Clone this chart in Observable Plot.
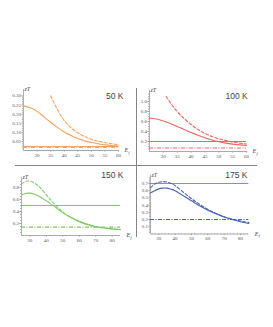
<!DOCTYPE html>
<html><head><meta charset="utf-8">
<script src="https://cdn.jsdelivr.net/npm/d3@7"></script>
<script src="https://cdn.jsdelivr.net/npm/@observablehq/plot@0.6"></script>
<style>
html,body{margin:0;padding:0;background:#fff;}
#wrap{position:relative;width:273px;height:327px;overflow:hidden;background:#fff;}
.panel{position:absolute;}
.vline{position:absolute;left:135.5px;top:88px;width:1.6px;height:149px;background:#858585;}
.hline{position:absolute;left:15px;top:164.5px;width:242px;height:1.6px;background:#858585;}
</style></head><body>
<div id="wrap"><div class="vline"></div><div class="hline"></div></div>
<script>
// ---- 50 K ----
const ef50Solid = [25, 27.5, 30, 32.5, 35, 37.5, 40, 42.5, 45, 47.5, 50, 52.5, 55, 57.5, 60];
const zt50Solid = [0.245, 0.235, 0.215, 0.185, 0.155, 0.127, 0.102, 0.082, 0.066, 0.053, 0.044, 0.037, 0.031, 0.027, 0.024];
const ef50Dashed = [35, 37.5, 40, 42.5, 45, 47.5, 50, 52.5, 55, 57.5, 60];
const zt50Dashed = [0.30, 0.225, 0.165, 0.125, 0.097, 0.077, 0.062, 0.051, 0.043, 0.037, 0.032];
const zt50Flat = 0.022, zt50DashDot = 0.017;
const xTicks50 = [30, 35, 40, 45, 50, 55, 60];
const yTicks50 = [0.05, 0.10, 0.15, 0.20, 0.25, 0.30];
const xMinor50 = [26, 27, 28, 29, 31, 32, 33, 34, 36, 37, 38, 39, 41, 42, 43, 44, 46, 47, 48, 49, 51, 52, 53, 54, 56, 57, 58, 59];
const yMinor50 = [0.01, 0.02, 0.03, 0.04, 0.06, 0.07, 0.08, 0.09, 0.11, 0.12, 0.13, 0.14, 0.16, 0.17, 0.18, 0.19, 0.21, 0.22, 0.23, 0.24, 0.26, 0.27, 0.28, 0.29];

// ---- 100 K ----
const ef100Solid = [25, 27.5, 30, 32.5, 35, 37.5, 40, 42.5, 45, 47.5, 50, 52.5, 55, 57.5, 60];
const zt100Solid = [0.67, 0.65, 0.61, 0.56, 0.50, 0.44, 0.38, 0.325, 0.275, 0.23, 0.195, 0.168, 0.148, 0.132, 0.12];
const ef100Dashed = [31, 32.5, 35, 37.5, 40, 42.5, 45, 47.5, 50, 52.5, 55, 57.5, 60];
const zt100Dashed = [1.10, 0.98, 0.80, 0.66, 0.54, 0.44, 0.36, 0.30, 0.255, 0.22, 0.19, 0.168, 0.15];
const zt100Flat = 0.20, zt100DashDot = 0.07;
const xTicks100 = [30, 35, 40, 45, 50, 55, 60];
const yTicks100 = [0.2, 0.4, 0.6, 0.8, 1.0];
const xMinor100 = xMinor50;
const yMinor100 = [0.05, 0.1, 0.15, 0.25, 0.3, 0.35, 0.45, 0.5, 0.55, 0.65, 0.7, 0.75, 0.85, 0.9, 0.95, 1.05, 1.1, 1.15];

// ---- 150 K ----
const ef150Solid = [25, 27.5, 30, 32.5, 35, 37.5, 40, 42.5, 45, 50, 55, 60, 65, 70, 75, 80, 85];
const zt150Solid = [0.68, 0.70, 0.705, 0.69, 0.66, 0.62, 0.58, 0.53, 0.48, 0.38, 0.30, 0.235, 0.185, 0.15, 0.125, 0.11, 0.095];
const ef150Dashed = [25, 27.5, 30, 32.5, 35, 37.5, 40, 42.5, 45, 50, 55, 60, 65, 70, 75, 80, 85];
const zt150Dashed = [0.86, 0.90, 0.905, 0.88, 0.83, 0.76, 0.68, 0.60, 0.52, 0.39, 0.30, 0.23, 0.18, 0.145, 0.125, 0.11, 0.10];
const zt150Flat = 0.50, zt150DashDot = 0.14;
const xTicks150 = [30, 40, 50, 60, 70, 80];
const yTicks150 = [0.2, 0.4, 0.6, 0.8];
const xMinor150 = [26, 28, 32, 34, 36, 38, 42, 44, 46, 48, 52, 54, 56, 58, 62, 64, 66, 68, 72, 74, 76, 78, 82, 84];
const yMinor150 = [0.05, 0.1, 0.15, 0.25, 0.3, 0.35, 0.45, 0.5, 0.55, 0.65, 0.7, 0.75, 0.85, 0.9];

// ---- 175 K ----
const ef175Solid = [25, 27.5, 30, 32.5, 35, 37.5, 40, 45, 50, 55, 60, 65, 70, 75, 80, 85];
const zt175Solid = [0.57, 0.60, 0.625, 0.635, 0.635, 0.62, 0.60, 0.53, 0.46, 0.39, 0.33, 0.28, 0.235, 0.20, 0.17, 0.145];
const ef175Dashed = [25, 27.5, 30, 32.5, 35, 37.5, 40, 45, 50, 55, 60, 65, 70, 75, 80, 85];
const zt175Dashed = [0.64, 0.69, 0.715, 0.725, 0.72, 0.70, 0.67, 0.58, 0.49, 0.41, 0.34, 0.285, 0.24, 0.205, 0.18, 0.16];
const zt175Flat = 0.70, zt175DashDot = 0.20;
const xTicks175 = [30, 40, 50, 60, 70, 80];
const yTicks175 = [0.1, 0.2, 0.3, 0.4, 0.5, 0.6, 0.7];
const xMinor175 = xMinor150;
const yMinor175 = [0.02, 0.04, 0.06, 0.08, 0.12, 0.14, 0.16, 0.18, 0.22, 0.24, 0.26, 0.28, 0.32, 0.34, 0.36, 0.38, 0.42, 0.44, 0.46, 0.48, 0.52, 0.54, 0.56, 0.58, 0.62, 0.64, 0.66, 0.68, 0.72, 0.74, 0.76, 0.78];

const titles = ["50 K", "100 K", "150 K", "175 K"];

function pts(xs, ys) { return xs.map((x, i) => ({x, y: ys[i]})); }

const panels = [
  {title: titles[0], color: "#f5a35a", flatColor: "#f5a35a",
   solid: pts(ef50Solid, zt50Solid), dashed: pts(ef50Dashed, zt50Dashed), flat: zt50Flat, dashDot: zt50DashDot,
   xTicks: xTicks50, yTicks: yTicks50, xMinor: xMinor50, yMinor: yMinor50, yFmt: ".2f", xDom: [25, 60], yDom: [0, 0.335],
   left: 0, top: 80, width: 136, height: 85, mt: 9, mb: 15, ml: 23, mr: 18, tdx: 5, tdy: 6.7},
  {title: titles[1], color: "#f26464", flatColor: "#f26464",
   solid: pts(ef100Solid, zt100Solid), dashed: pts(ef100Dashed, zt100Dashed), flat: zt100Flat, dashDot: zt100DashDot,
   xTicks: xTicks100, yTicks: yTicks100, xMinor: xMinor100, yMinor: yMinor100, yFmt: ".1f", xDom: [25, 60], yDom: [0, 1.22],
   left: 136, top: 80, width: 137, height: 85, mt: 10, mb: 14, ml: 13, mr: 27, tdx: 1.3, tdy: 5.7},
  {title: titles[2], color: "#84c866", flatColor: "#84c866",
   solid: pts(ef150Solid, zt150Solid), dashed: pts(ef150Dashed, zt150Dashed), flat: zt150Flat, dashDot: zt150DashDot,
   xTicks: xTicks150, yTicks: yTicks150, xMinor: xMinor150, yMinor: yMinor150, yFmt: ".1f", xDom: [25, 85], yDom: [0, 0.97],
   left: 0, top: 165, width: 136, height: 90, mt: 11.7, mb: 20, ml: 21, mr: 16, tdx: 3, tdy: -1.7},
  {title: titles[3], color: "#4862b4", flatColor: "#8888d4",
   solid: pts(ef175Solid, zt175Solid), dashed: pts(ef175Dashed, zt175Dashed), flat: zt175Flat, dashDot: zt175DashDot,
   xTicks: xTicks175, yTicks: yTicks175, xMinor: xMinor175, yMinor: yMinor175, yFmt: ".1f", xDom: [25, 85], yDom: [0, 0.81],
   left: 136, top: 165, width: 137, height: 90, mt: 10, mb: 21.5, ml: 14, mr: 24.7, tdx: -1.3, tdy: 0}
];

const wrap = document.getElementById("wrap");
const axisColor = "#9a9a9a";
const tickFont = "Liberation Serif, DejaVu Serif, serif";

for (const p of panels) {
  const chart = Plot.plot({
    width: p.width, height: p.height,
    marginTop: p.mt, marginBottom: p.mb, marginLeft: p.ml, marginRight: p.mr,
    style: {background: "transparent", fontFamily: tickFont, overflow: "visible"},
    x: {domain: p.xDom},
    y: {domain: p.yDom},
    marks: [
      Plot.ruleY([p.yDom[0]], {stroke: axisColor, strokeWidth: 0.8}),
      Plot.ruleX([p.xDom[0]], {stroke: axisColor, strokeWidth: 0.8}),
      Plot.axisX(p.xMinor, {tickSize: 0.8, tickFormat: () => "", stroke: axisColor, label: null}),
      Plot.axisY(p.yMinor, {tickSize: 0.8, tickFormat: () => "", stroke: axisColor, label: null}),
      Plot.axisX(p.xTicks, {tickSize: 1.6, tickPadding: 1, fontSize: 5, fill: "#555", stroke: axisColor, label: null}),
      Plot.axisY(p.yTicks, {tickSize: 1.6, tickPadding: 1, fontSize: 5, fill: "#555", stroke: axisColor, tickFormat: p.yFmt, label: null}),
      Plot.ruleY([p.flat], {x1: p.xDom[0], x2: p.xDom[1], stroke: p.flatColor, strokeWidth: 1.1}),
      Plot.ruleY([p.dashDot], {x1: p.xDom[0], x2: p.xDom[1], stroke: p.color, strokeWidth: 1.1, strokeDasharray: "4,1.5,1,1.5"}),
      Plot.line(p.solid, {x: "x", y: "y", stroke: p.color, strokeWidth: 1.1, curve: "natural"}),
      Plot.line(p.dashed, {x: "x", y: "y", stroke: p.color, strokeWidth: 1.1, strokeDasharray: "3,2", curve: "natural"}),
      Plot.text(["zT"], {frameAnchor: "top-left", textAnchor: "start", lineAnchor: "middle", dx: 1, dy: 0, fontSize: 6, fontStyle: "italic", fill: "#444"}),
      Plot.text(["E"], {frameAnchor: "bottom-right", textAnchor: "start", lineAnchor: "middle", dx: 6, dy: 0, fontSize: 6, fontStyle: "italic", fill: "#444"}),
      Plot.text(["f"], {frameAnchor: "bottom-right", textAnchor: "start", lineAnchor: "middle", dx: 10, dy: 2, fontSize: 4, fontStyle: "italic", fill: "#444"}),
      Plot.text([p.title], {frameAnchor: "top-right", textAnchor: "end", lineAnchor: "middle", dx: p.tdx, dy: p.tdy, fontSize: 8.5, fontFamily: "Liberation Sans, Arial, sans-serif", fill: "#444"})
    ]
  });
  chart.classList.add("panel");
  chart.style.left = p.left + "px";
  chart.style.top = p.top + "px";
  wrap.appendChild(chart);
}
</script>
</body></html>
